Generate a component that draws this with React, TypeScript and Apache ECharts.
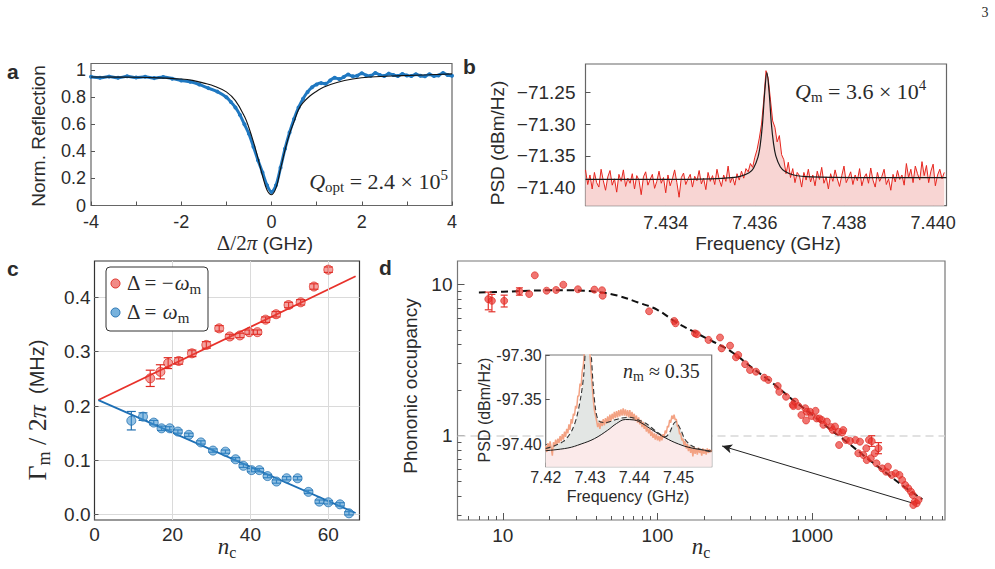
import React, { useEffect, useRef } from "react";
import * as echarts from "echarts";

const SANS = "'Liberation Sans', Arial, sans-serif";
const SERIF = "'Liberation Serif', 'DejaVu Serif', serif";
const INK = "#2b2b2b";

// ---------- (a) optical reflection ----------
const aDetuning = [
  -4.0, -3.8, -3.6, -3.4, -3.2, -3.0, -2.8, -2.6, -2.4, -2.2, -2.0, -1.8, -1.6, -1.4, -1.2, -1.0, -0.9, -0.8, -0.7, -0.6,
  -0.5, -0.4, -0.3, -0.2, -0.1, 0, 0.1, 0.2, 0.3, 0.4, 0.5, 0.6, 0.7, 0.8, 0.9, 1.0, 1.1, 1.2, 1.3, 1.4,
  1.5, 1.6, 1.7, 1.8, 1.9, 2.0, 2.1, 2.2, 2.3, 2.4, 2.5, 2.6, 2.7, 2.8, 2.9, 3.0, 3.1, 3.2, 3.3, 3.4,
  3.5, 3.6, 3.7, 3.8, 3.9, 4.0,
];
const aReflection = [
  0.952, 0.945, 0.953, 0.944, 0.955, 0.946, 0.952, 0.942, 0.95, 0.938, 0.925, 0.915, 0.895, 0.868, 0.842, 0.8, 0.765, 0.725, 0.67, 0.6,
  0.53, 0.435, 0.335, 0.245, 0.15, 0.1, 0.15, 0.28, 0.42, 0.54, 0.64, 0.725, 0.79, 0.84, 0.875, 0.895, 0.905, 0.9, 0.925, 0.945,
  0.935, 0.95, 0.968, 0.955, 0.96, 0.978, 0.962, 0.96, 0.98, 0.965, 0.958, 0.975, 0.965, 0.958, 0.972, 0.962, 0.958, 0.97, 0.96, 0.956,
  0.97, 0.958, 0.962, 0.98, 0.965, 0.96,
];
const aFitDetuning = [-4, -3, -2.5, -2, -1.75, -1.5, -1.25, -1, -0.8, -0.6, -0.5, -0.4, -0.3, -0.2, -0.1, 0, 0.1, 0.2, 0.3, 0.4, 0.5, 0.6, 0.7, 0.85, 1.0, 1.15, 1.45, 1.8, 2.2, 2.9, 3.5, 4.0];
const aFitReflection = [0.95, 0.948, 0.944, 0.935, 0.925, 0.905, 0.88, 0.84, 0.775, 0.66, 0.575, 0.47, 0.35, 0.22, 0.115, 0.08, 0.13, 0.27, 0.41, 0.53, 0.62, 0.71, 0.76, 0.81, 0.845, 0.875, 0.91, 0.935, 0.95, 0.96, 0.967, 0.973];
const aXTicks = [-4, -3, -2, -1, 0, 1, 2, 3, 4];
const aXLabels = [-4, -2, 0, 2, 4];
const aYTicks = [0, 0.2, 0.4, 0.6, 0.8, 1];

// ---------- (b) mechanical PSD ----------
const bFreqStart = 7.4322;
const bFreqStep = 0.00005;
const bPsd = [
  -71.372, -71.395, -71.38, -71.402, -71.376, -71.392, -71.399, -71.371, -71.389, -71.404,
  -71.383, -71.373, -71.396, -71.386, -71.407, -71.379, -71.39, -71.372, -71.398, -71.385,
  -71.393, -71.378, -71.402, -71.381, -71.388, -71.411, -71.383, -71.375, -71.396, -71.387,
  -71.379, -71.401, -71.39, -71.374, -71.393, -71.384, -71.408, -71.38, -71.397, -71.386,
  -71.372, -71.392, -71.415, -71.384, -71.377, -71.395, -71.386, -71.379, -71.399, -71.382,
  -71.389, -71.373, -71.394, -71.385, -71.403, -71.376, -71.39, -71.381, -71.395, -71.371,
  -71.387, -71.398, -71.38, -71.39, -71.366, -71.392, -71.383, -71.396, -71.378, -71.388,
  -71.374, -71.385, -71.37, -71.375, -71.362, -71.368, -71.352, -71.34, -71.322, -71.3,
  -71.262, -71.216, -71.228, -71.262, -71.295, -71.305, -71.328, -71.318, -71.348, -71.356,
  -71.378, -71.36, -71.384, -71.37, -71.392, -71.376, -71.381, -71.399, -71.376, -71.388,
  -71.371, -71.391, -71.38, -71.397, -71.374, -71.387, -71.368, -71.393, -71.383, -71.402,
  -71.378, -71.39, -71.372, -71.386, -71.398, -71.381, -71.366, -71.392, -71.384, -71.375,
  -71.395, -71.38, -71.389, -71.37, -71.397, -71.384, -71.378, -71.393, -71.369, -71.388,
  -71.399, -71.376, -71.39, -71.382, -71.371, -71.395, -71.386, -71.404, -71.379, -71.391,
  -71.373, -71.387, -71.38, -71.396, -71.362, -71.384, -71.371, -71.392, -71.366, -71.378,
  -71.388, -71.359, -71.381, -71.365, -71.392, -71.374, -71.363, -71.397, -71.38, -71.371, -71.386, -71.376,
];
const bFitFreq = [7.4322, 7.4342, 7.43527, 7.43567, 7.43587, 7.43597, 7.43607, 7.43612, 7.43617, 7.43622, 7.43627, 7.43632, 7.43637, 7.43642, 7.43647, 7.43657, 7.43667, 7.43687, 7.43727, 7.4383, 7.4403];
const bFitPsd = [-71.387, -71.3868, -71.3852, -71.3822, -71.3766, -71.3693, -71.3518, -71.3332, -71.3005, -71.251, -71.219, -71.25, -71.299, -71.331, -71.35, -71.367, -71.374, -71.38, -71.383, -71.384, -71.384];
const bXLabels = [7.434, 7.436, 7.438, 7.44];
const bYLabels = [-71.4, -71.35, -71.3, -71.25];

// ---------- (c) mechanical linewidth vs cavity photon number ----------
const cRedNc = [14.3, 16.9, 18.9, 21.6, 25.0, 28.7, 32.0, 34.7, 37.3, 39.7, 41.8, 43.9, 46.6, 49.8, 52.9, 56.3, 60.0];
const cRedGamma = [0.251, 0.263, 0.279, 0.283, 0.297, 0.3125, 0.343, 0.328, 0.33, 0.336, 0.336, 0.359, 0.369, 0.386, 0.391, 0.42, 0.451];
const cRedErr = [0.015, 0.013, 0.01, 0.006, 0.006, 0.006, 0.005, 0.004, 0.004, 0.004, 0.004, 0.005, 0.005, 0.005, 0.005, 0.005, 0.005];
const cBlueNc = [9.45, 12.45, 15.2, 17.2, 19.3, 21.4, 24.2, 27.3, 30.4, 33.6, 36.2, 38.2, 40.3, 42.3, 44.4, 46.7, 49.3, 52.1, 54.9, 57.7, 60.0, 63.0, 65.3];
const cBlueGamma = [0.173, 0.1805, 0.1695, 0.159, 0.159, 0.153, 0.147, 0.133, 0.118, 0.116, 0.102, 0.09, 0.082, 0.082, 0.071, 0.061, 0.067, 0.067, 0.042, 0.024, 0.0228, 0.019, 0.0025];
const cBlueErr = [0.017, 0.007, 0.004, 0.004, 0.003, 0.003, 0.003, 0.003, 0.003, 0.003, 0.003, 0.003, 0.003, 0.003, 0.003, 0.003, 0.003, 0.003, 0.003, 0.003, 0.003, 0.003, 0.003];
const cFitNc = [1, 67];
const cRedFit = [0.211, 0.439];
const cBlueFit = [0.211, 0.003];
const cXLabels = [0, 20, 40, 60];
const cXGrid = [20, 40, 60];
const cYLabels = [0, 0.1, 0.2, 0.3, 0.4];

// ---------- (d) phonon occupancy ----------
const dNc = [
  8.05, 8.5, 10.2, 12.8, 14.8, 16.1, 19.2, 22.1, 24.6, 30.6, 39.1, 43.8, 44.2, 88.3, 128.5, 131, 175, 180, 214, 254,
  260, 295, 322, 333, 369, 397, 434, 491, 521, 600, 614, 679, 750, 757, 776, 815, 853, 904, 915, 925,
  971, 995, 1054, 1072, 1115, 1156, 1184, 1248, 1327, 1361, 1409, 1483, 1496, 1568, 1593, 1659, 1762, 1911, 1992, 2043,
  2148, 2243, 2259, 2334, 2399, 2432, 2541, 2612, 2690, 2844, 3011, 3097, 3280, 3475, 3675, 3828, 4000, 4190, 4364, 4487,
  4614, 4750, 4520, 4886,
];
const dOccupancy = [
  8.0, 7.8, 7.8, 9.0, 8.65, 11.5, 9.1, 9.2, 9.97, 9.3, 9.25, 9.16, 8.43, 6.65, 5.74, 5.54, 4.75, 4.69, 4.3, 4.46,
  3.78, 3.94, 3.3, 3.42, 2.97, 2.72, 2.65, 2.42, 2.34, 2.13, 1.95, 1.81, 1.6, 1.57, 1.68, 1.57, 1.37, 1.52, 1.26, 1.44,
  1.44, 1.35, 1.46, 1.3, 1.3, 1.27, 1.18, 1.24, 1.14, 1.09, 1.15, 1.06, 0.868, 1.05, 1.09, 0.937, 0.923, 0.937, 0.765, 0.913,
  0.745, 0.826, 0.69, 0.937, 0.709, 0.92, 0.765, 0.657, 0.826, 0.608, 0.578, 0.624, 0.55, 0.564, 0.55, 0.509, 0.472, 0.449, 0.426, 0.405,
  0.366, 0.357, 0.348, 0.376,
];
const dErrNc = [8.05, 8.5, 10.2, 12.8, 2432, 2690];
const dErrLow = [6.8, 6.6, 7.1, 8.5, 0.85, 0.76];
const dErrHigh = [8.9, 8.6, 8.5, 9.5, 1.0, 0.9];
const dFitNc = [7, 10, 15, 20, 28, 40, 55, 75, 100, 133, 180, 233, 300, 412, 550, 728, 1000, 1284, 1700, 2268, 3000, 4000, 5172];
const dFitOcc = [8.85, 8.95, 9.1, 9.15, 9.15, 8.95, 8.45, 7.6, 6.8, 5.6, 4.75, 4.15, 3.6, 2.8, 2.25, 1.77, 1.38, 1.12, 0.9, 0.71, 0.57, 0.455, 0.38];
const dXLabels = [10, 100, 1000];
const dXMinor = [6, 7, 8, 9, 20, 30, 40, 50, 60, 70, 80, 90, 200, 300, 400, 500, 600, 700, 800, 900, 2000, 3000, 4000, 5000, 6000, 7000];
const dYLabels = [1, 10];
const dYMinor = [0.3, 0.4, 0.5, 0.6, 0.7, 0.8, 0.9, 2, 3, 4, 5, 6, 7, 8, 9];

// ---------- (d inset) sideband spectrum ----------
const inFreqStart = 7.42;
const inFreqStep = 0.00025;
const inPsd = [
  -97.402, -97.409, -97.399, -97.406, -97.397, -97.404, -97.413, -97.398, -97.403, -97.395,
  -97.401, -97.394, -97.399, -97.391, -97.397, -97.389, -97.395, -97.386, -97.392, -97.383,
  -97.388, -97.378, -97.384, -97.372, -97.377, -97.366, -97.368, -97.357, -97.36, -97.346,
  -97.346, -97.332, -97.335, -97.318, -97.312, -97.295, -97.27, -97.25, -97.26, -97.28,
  -97.3, -97.318, -97.335, -97.35, -97.362, -97.368, -97.374, -97.381, -97.376, -97.383,
  -97.374, -97.38, -97.372, -97.379, -97.371, -97.377, -97.369, -97.376, -97.367, -97.374,
  -97.366, -97.372, -97.364, -97.371, -97.363, -97.37, -97.362, -97.369, -97.361, -97.368,
  -97.36, -97.368, -97.361, -97.369, -97.362, -97.37, -97.362, -97.371, -97.364, -97.372,
  -97.366, -97.374, -97.368, -97.376, -97.37, -97.378, -97.373, -97.381, -97.375, -97.383,
  -97.378, -97.386, -97.381, -97.388, -97.383, -97.391, -97.386, -97.393, -97.388, -97.395,
  -97.389, -97.396, -97.391, -97.397, -97.39, -97.396, -97.389, -97.393, -97.385, -97.388,
  -97.38, -97.381, -97.373, -97.376, -97.368, -97.372, -97.367, -97.373, -97.372, -97.38,
  -97.381, -97.389, -97.388, -97.396, -97.394, -97.401, -97.397, -97.405, -97.4, -97.408,
  -97.402, -97.41, -97.404, -97.414, -97.403, -97.411, -97.405, -97.412, -97.404, -97.41,
  -97.406, -97.413, -97.405, -97.411, -97.406, -97.412, -97.405, -97.41, -97.406, -97.409, -97.407,
];
const inTotalFreq = [7.42, 7.422, 7.424, 7.425, 7.426, 7.427, 7.428, 7.4286, 7.429, 7.4294, 7.4298, 7.4303, 7.4307, 7.4313, 7.432, 7.4335, 7.435, 7.437, 7.439, 7.441, 7.443, 7.445, 7.447, 7.448, 7.4488, 7.4494, 7.45, 7.4506, 7.4515, 7.453, 7.455, 7.4575];
const inTotalPsd = [-97.405, -97.402, -97.397, -97.392, -97.384, -97.37, -97.345, -97.322, -97.29, -97.26, -97.27, -97.3, -97.332, -97.362, -97.374, -97.376, -97.374, -97.371, -97.37, -97.373, -97.378, -97.386, -97.392, -97.387, -97.378, -97.375, -97.379, -97.385, -97.395, -97.402, -97.406, -97.409];
const inBroadFreq = [7.42, 7.425, 7.428, 7.431, 7.434, 7.436, 7.438, 7.44, 7.442, 7.444, 7.447, 7.45, 7.453, 7.4575];
const inBroadPsd = [-97.4075, -97.4045, -97.4, -97.394, -97.3845, -97.377, -97.3725, -97.373, -97.3775, -97.384, -97.393, -97.4, -97.4045, -97.408];
const inXLabels = [7.42, 7.43, 7.44, 7.45];
const inYLabels = [-97.4, -97.35, -97.3];

const pairs = (xs: number[], ys: number[]) => xs.map((x, i) => [x, ys[i]]);
const sampled = (start: number, step: number, ys: number[]) => ys.map((y, i) => [+(start + i * step).toFixed(6), y]);
const bars = (xs: number[], ys: number[], err: number[]) => xs.map((x, i) => [x, ys[i] - err[i], ys[i] + err[i]]);

type AxisOpts = {
  grid: number;
  type?: string;
  min: number;
  max: number;
  position?: string;
  ticks?: number[];
  labels?: number[];
  fmt?: (v: number) => string;
  tickLen?: number;
  margin?: number;
  fontSize?: number;
  split?: boolean;
  z?: number;
};

const axis = (o: AxisOpts) => ({
  type: o.type ?? "value",
  gridIndex: o.grid,
  position: o.position,
  offset: 0,
  min: o.min,
  max: o.max,
  z: o.z,
  axisLine: { show: false, onZero: false },
  axisTick: o.ticks
    ? { show: true, inside: true, length: o.tickLen ?? 5, customValues: o.ticks, lineStyle: { color: "#555", width: 1 } }
    : { show: false },
  minorTick: { show: false },
  axisLabel: o.labels
    ? { show: true, customValues: o.labels, formatter: o.fmt, margin: o.margin ?? 6, color: INK, fontFamily: SANS, fontSize: o.fontSize ?? 19 }
    : { show: false },
  splitLine: o.split ? { show: true, lineStyle: { color: "#dadada", width: 1 } } : { show: false },
});

const errorBars = (x: number, y: number, data: number[][], color: string, cap: number, z: number) => ({
  type: "custom",
  xAxisIndex: x,
  yAxisIndex: y,
  z,
  clip: true,
  data,
  encode: { x: 0, y: [1, 2] },
  renderItem: (_p: any, api: any) => {
    const lo = api.coord([api.value(0), api.value(1)]);
    const hi = api.coord([api.value(0), api.value(2)]);
    const st = { stroke: color, lineWidth: 1.2 };
    return {
      type: "group",
      children: [
        { type: "line", shape: { x1: lo[0], y1: lo[1], x2: hi[0], y2: hi[1] }, style: st },
        { type: "line", shape: { x1: lo[0] - cap, y1: lo[1], x2: lo[0] + cap, y2: lo[1] }, style: st },
        { type: "line", shape: { x1: hi[0] - cap, y1: hi[1], x2: hi[0] + cap, y2: hi[1] }, style: st },
      ],
    };
  },
});

const math = (size: number, sans = 19) => ({
  r: { fontFamily: SERIF, fontSize: size, color: INK },
  i: { fontFamily: SERIF, fontStyle: "italic", fontSize: size, color: INK },
  sub: { fontFamily: SERIF, fontSize: Math.round(size * 0.7), color: INK, padding: [Math.round(size * 0.5), 0, 0, 0] },
  sup: { fontFamily: SERIF, fontSize: Math.round(size * 0.7), color: INK, padding: [0, 0, Math.round(size * 0.6), 0] },
  s: { fontFamily: SANS, fontSize: sans, color: INK },
});

const label = (text: string, x: number, y: number, extra: any = {}) => ({
  type: "text",
  x,
  y,
  z: 30,
  rotation: extra.rotation ?? 0,
  style: {
    text,
    fill: INK,
    font: extra.font ?? `19px ${SANS}`,
    align: extra.align ?? "center",
    verticalAlign: "middle",
    rich: extra.rich,
  },
});

const RED_FILL = "rgba(233,66,60,0.62)";
const RED_EDGE = "#de2a22";
const BLUE_FILL = "rgba(66,148,208,0.72)";
const BLUE_EDGE = "#2270b0";

const gridBase = { show: true, borderWidth: 1.2, backgroundColor: "transparent", containLabel: false, outerBoundsMode: "none" };

const option: any = {
  animation: false,
  backgroundColor: "#fff",
  grid: [
    { ...gridBase, left: 91, top: 63.5, width: 361, height: 142, borderColor: "#666" },
    { ...gridBase, left: 585.5, top: 64, width: 361, height: 141.7, borderColor: "#666" },
    { ...gridBase, left: 94.5, top: 261, width: 265, height: 259, borderColor: "#333" },
    { ...gridBase, left: 457.5, top: 261, width: 487.5, height: 259, borderColor: "#777" },
    { ...gridBase, left: 545.7, top: 355, width: 166, height: 111.7, borderColor: "#777", backgroundColor: "#fff", z: 10 },
  ],
  xAxis: [
    axis({ grid: 0, min: -4, max: 4, position: "bottom", ticks: aXTicks, labels: aXLabels, fmt: (v) => String(Math.round(v)), tickLen: 4, margin: 7, fontSize: 18 }),
    axis({ grid: 1, min: 7.4322, max: 7.4403, position: "bottom", ticks: bXLabels, labels: bXLabels, fmt: (v) => v.toFixed(3), tickLen: 4, margin: 8, fontSize: 18 }),
    axis({ grid: 2, min: 0, max: 68, position: "bottom", ticks: cXLabels, labels: cXLabels, fmt: (v) => String(Math.round(v)), tickLen: 4, margin: 5 }),
    axis({ grid: 3, type: "log", min: 5.09, max: 7245, position: "bottom", ticks: dXLabels, labels: dXLabels, fmt: (v) => String(Math.round(v)), tickLen: 7, margin: 6 }),
    axis({ grid: 3, type: "log", min: 5.09, max: 7245, position: "bottom", ticks: dXMinor, tickLen: 4 }),
    axis({ grid: 4, min: 7.42, max: 7.4575, position: "bottom", ticks: inXLabels, labels: inXLabels, fmt: (v) => v.toFixed(2), tickLen: 4, margin: 3, fontSize: 16, z: 11 }),
  ],
  yAxis: [
    axis({ grid: 0, min: 0, max: 1.05, position: "left", ticks: aYTicks, labels: aYTicks, fmt: (v) => (v === 0 ? "0" : Math.abs(v - 1) < 1e-6 ? "1" : v.toFixed(1)), tickLen: 4, margin: 5, fontSize: 18 }),
    axis({ grid: 1, min: -71.4283, max: -71.2055, position: "left", ticks: bYLabels, labels: bYLabels, fmt: (v) => "\u2212" + Math.abs(v).toFixed(2), tickLen: 5, margin: 10 }),
    axis({ grid: 2, min: -0.0098, max: 0.467, position: "left", ticks: cYLabels, labels: cYLabels, fmt: (v) => v.toFixed(1), tickLen: 4, margin: 4, split: true }),
    axis({ grid: 3, type: "log", min: 0.277, max: 14.3, position: "left", ticks: dYLabels, labels: dYLabels, fmt: (v) => String(Math.round(v)), tickLen: 7, margin: 5 }),
    axis({ grid: 3, type: "log", min: 0.277, max: 14.3, position: "left", ticks: dYMinor, tickLen: 4 }),
    axis({ grid: 4, min: -97.4255, max: -97.3, position: "left", ticks: inYLabels, labels: inYLabels, fmt: (v) => v.toFixed(2), tickLen: 4, margin: 4, fontSize: 16, z: 11 }),
  ],
  series: [
    // (a)
    {
      type: "line", xAxisIndex: 0, yAxisIndex: 0, data: pairs(aDetuning, aReflection), smooth: 0.3,
      symbol: "circle", symbolSize: 4, showSymbol: true, showAllSymbol: true,
      itemStyle: { color: "#1f78c1" }, lineStyle: { color: "#1f78c1", width: 3 }, z: 3,
    },
    { type: "line", xAxisIndex: 0, yAxisIndex: 0, data: pairs(aFitDetuning, aFitReflection), smooth: 0.4, showSymbol: false, lineStyle: { color: "#111", width: 1.1 }, z: 4 },
    // (b)
    {
      type: "line", xAxisIndex: 1, yAxisIndex: 1, data: sampled(bFreqStart, bFreqStep, bPsd), showSymbol: false,
      lineStyle: { color: "#e6261f", width: 1 }, areaStyle: { color: "#f8d5d3", opacity: 1, origin: "start" }, z: 3,
    },
    { type: "line", xAxisIndex: 1, yAxisIndex: 1, data: pairs(bFitFreq, bFitPsd), smooth: 0.35, showSymbol: false, lineStyle: { color: "#1a1a1a", width: 1.2 }, z: 4 },
    // (c) vertical grid lines
    {
      type: "line", xAxisIndex: 2, yAxisIndex: 2, data: pairs(cFitNc, cRedFit), showSymbol: false, lineStyle: { opacity: 0 }, z: 1,
      markLine: {
        silent: true, animation: false, symbol: ["none", "none"], label: { show: false },
        lineStyle: { color: "#dadada", width: 1, type: "solid" },
        data: cXGrid.map((v) => ({ xAxis: v })),
      },
    },
    { type: "line", xAxisIndex: 2, yAxisIndex: 2, data: pairs(cFitNc, cRedFit), showSymbol: false, lineStyle: { color: "#e8312a", width: 1.8 }, z: 3 },
    { type: "line", xAxisIndex: 2, yAxisIndex: 2, data: pairs(cFitNc, cBlueFit), showSymbol: false, lineStyle: { color: "#1d6fb5", width: 1.8 }, z: 3 },
    errorBars(2, 2, bars(cRedNc, cRedGamma, cRedErr), RED_EDGE, 4.5, 4),
    errorBars(2, 2, bars(cBlueNc, cBlueGamma, cBlueErr), BLUE_EDGE, 4.5, 4),
    {
      type: "scatter", xAxisIndex: 2, yAxisIndex: 2, data: pairs(cRedNc, cRedGamma), symbolSize: 9,
      itemStyle: { color: RED_FILL, borderColor: RED_EDGE, borderWidth: 1 }, z: 5,
    },
    {
      type: "scatter", xAxisIndex: 2, yAxisIndex: 2, data: pairs(cBlueNc, cBlueGamma), symbolSize: 9,
      itemStyle: { color: BLUE_FILL, borderColor: BLUE_EDGE, borderWidth: 1 }, z: 5,
    },
    // (d)
    {
      type: "line", xAxisIndex: 3, yAxisIndex: 3, data: pairs(dFitNc, dFitOcc), smooth: 0.4, showSymbol: false,
      lineStyle: { color: "#111", width: 2, type: [7, 4] }, z: 4,
    },
    errorBars(3, 3, dErrNc.map((x, i) => [x, dErrLow[i], dErrHigh[i]]), "#e3332c", 3.5, 5),
    {
      type: "scatter", xAxisIndex: 3, yAxisIndex: 3, data: pairs(dNc, dOccupancy), symbolSize: 7,
      itemStyle: { color: "rgba(234,52,46,0.85)", borderColor: "#d9241d", borderWidth: 0.8 }, z: 6,
      markLine: {
        silent: true,
        animation: false,
        symbol: ["none", "none"],
        label: { show: false },
        data: [
          { yAxis: 1, lineStyle: { color: "#d8d8d8", width: 1.5, type: [8, 5] } },
          [
            { coord: [4700, 0.353], symbol: "none", lineStyle: { color: "#222", width: 1, type: "solid" } },
            { coord: [262, 0.855], symbol: "arrow", symbolSize: [7, 10] },
          ],
        ],
      },
    },
    // (d inset)
    {
      type: "line", xAxisIndex: 5, yAxisIndex: 5, data: pairs(inTotalFreq, inTotalPsd), smooth: 0.3, showSymbol: false,
      lineStyle: { opacity: 0 }, areaStyle: { color: "#e3e6e4", opacity: 1, origin: "start" }, z: 12,
    },
    {
      type: "line", xAxisIndex: 5, yAxisIndex: 5, data: pairs(inBroadFreq, inBroadPsd), smooth: 0.4, showSymbol: false,
      lineStyle: { opacity: 0 }, areaStyle: { color: "#fbeaea", opacity: 1, origin: "start" }, z: 13,
    },
    {
      type: "line", xAxisIndex: 5, yAxisIndex: 5, data: sampled(inFreqStart, inFreqStep, inPsd), showSymbol: false,
      lineStyle: { color: "#f3a283", width: 1.5 }, z: 14,
    },
    { type: "line", xAxisIndex: 5, yAxisIndex: 5, data: pairs(inBroadFreq, inBroadPsd), smooth: 0.4, showSymbol: false, lineStyle: { color: "#1a1a1a", width: 1 }, z: 15 },
    {
      type: "line", xAxisIndex: 5, yAxisIndex: 5, data: pairs(inTotalFreq, inTotalPsd), smooth: 0.3, showSymbol: false,
      lineStyle: { color: "#333", width: 1.1, type: [5, 3] }, z: 16,
    },
  ],
  graphic: [
    label("a", 7, 71, { font: `bold 21px ${SANS}`, align: "left" }),
    label("b", 463, 66, { font: `bold 21px ${SANS}`, align: "left" }),
    label("c", 7, 268, { font: `bold 21px ${SANS}`, align: "left" }),
    label("d", 379, 267, { font: `bold 21px ${SANS}`, align: "left" }),
    label("3", 985, 12, { font: `14px ${SERIF}` }),
    // (a)
    label("Norm. Reflection", 38, 136, { rotation: Math.PI / 2 }),
    label("{r|\u0394/2}{i|\u03c0}{s| (GHz)}", 265, 243, { rich: math(21) }),
    label("{i|Q}{sub|opt}{r| = 2.4 \u00d7 10}{sup|5}", 448, 181, { align: "right", rich: math(22) }),
    // (b)
    label("PSD (dBm/Hz)", 497, 143, { rotation: Math.PI / 2 }),
    label("Frequency (GHz)", 768, 243),
    label("{i|Q}{sub|m}{r| = 3.6 \u00d7 10}{sup|4}", 795, 91, { align: "left", rich: math(22) }),
    // (c)
    label("{r|\u0393}{sub|m}{r| / 2}{i|\u03c0}{s|  (MHz)}", 37, 410, { rotation: Math.PI / 2, rich: math(26, 20) }),
    label("{i|n}{sub|c}", 227, 546, { rich: math(23) }),
    {
      type: "rect", z: 25,
      shape: { x: 106, y: 267, width: 102, height: 64, r: 4 },
      style: { fill: "#fff", stroke: "#333", lineWidth: 1 },
    },
    { type: "circle", z: 26, shape: { cx: 115.5, cy: 283.5, r: 4.5 }, style: { fill: RED_FILL, stroke: RED_EDGE, lineWidth: 1 } },
    { type: "circle", z: 26, shape: { cx: 115.5, cy: 312.5, r: 4.5 }, style: { fill: BLUE_FILL, stroke: BLUE_EDGE, lineWidth: 1 } },
    label("{r|\u0394 = \u2212}{i|\u03c9}{sub|m}", 127, 283, { align: "left", rich: math(21) }),
    label("{r|\u0394 = }{i|\u03c9}{sub|m}", 127, 312, { align: "left", rich: math(21) }),
    // (d)
    label("Phononic occupancy", 410, 386, { rotation: Math.PI / 2 }),
    label("{i|n}{sub|c}", 701, 546, { rich: math(23) }),
    label("PSD (dBm/Hz)", 484, 410, { rotation: Math.PI / 2, font: `16px ${SANS}` }),
    label("Frequency (GHz)", 628, 496, { font: `16px ${SANS}` }),
    label("{i|n}{sub|m}{r| \u2248 0.35}", 623, 371, { align: "left", rich: math(20) }),
  ],
};

export default function App() {
  const ref = useRef<HTMLDivElement>(null);
  useEffect(() => {
    if (!ref.current) return;
    const chart = echarts.init(ref.current, null, { renderer: "svg" });
    chart.setOption(option);
    return () => chart.dispose();
  }, []);
  return (
    <div
      ref={ref}
      style={{ position: "fixed", left: 0, top: 0, width: 995, height: 569, background: "#fff" }}
    />
  );
}
